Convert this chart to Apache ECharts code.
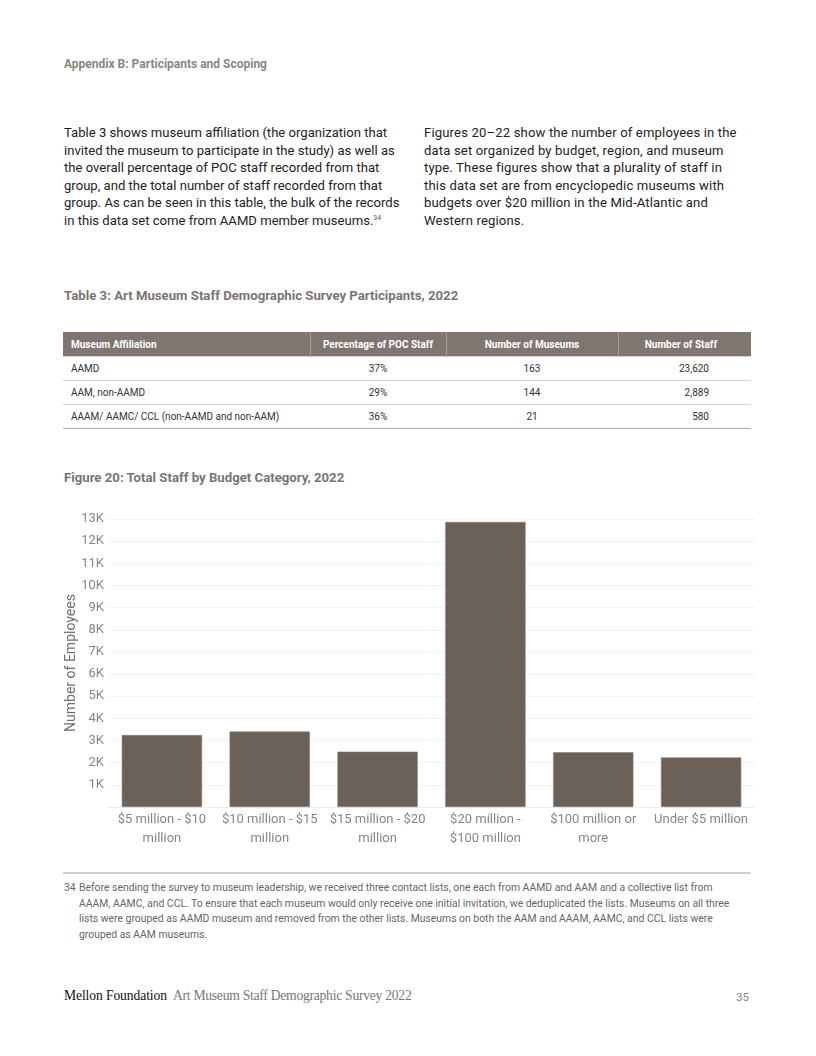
<!DOCTYPE html>
<html>
<head>
<meta charset="utf-8">
<script src="https://cdn.jsdelivr.net/npm/echarts@6/dist/echarts.min.js"></script>
<style>
  html, body { margin: 0; padding: 0; background: #fff; }
  body { width: 816px; height: 1056px; position: relative; overflow: hidden; font-family: Roboto, "Noto Sans", sans-serif; }
  .abs { position: absolute; }
  .hdr { left: 64px; top: 57px; font-size: 12px; font-weight: 700; color: #8c8582; }
  .para { top: 124px; font-size: 13.1px; line-height: 17.6px; color: #222; white-space: nowrap; }
  .para sup { font-size: 7px; line-height: 0; vertical-align: 5px; color: #555; }
  .ttl { left: 64px; font-size: 13.2px; font-weight: 700; color: #7b7572; }
  table { border-collapse: collapse; font-size: 10px; color: #333; }
  th { background: #7f7671; color: #fff; font-weight: 700; height: 24px; padding: 0 8px; border-left: 1px solid #a49c97; }
  th:first-child { border-left: none; text-align: left; }
  td { height: 23px; padding: 0 8px; border-top: 1px solid #d6d6d6; text-align: center; }
  td:first-child { text-align: left; }
  tr:last-child td { border-bottom: 1px solid #aaa; }
  .rule { left: 63px; top: 872px; width: 688px; height: 2px; background: #cfcfcf; }
  .fn { left: 64px; top: 880px; width: 720px; font-size: 10.4px; line-height: 15.6px; color: #666; white-space: nowrap; }
  .fn .num { position: absolute; left: 0; }
  .fn .txt { margin-left: 15px; }
  .foot { left: 64px; top: 988px; font-family: "Liberation Serif", "DejaVu Serif", serif; font-size: 13.6px; white-space: nowrap; }
  .foot .b { color: #111; letter-spacing: -0.1px; }
  .foot .g { color: #777; margin-left: 6px; letter-spacing: -0.25px; }
  .pg { left: 736px; top: 990px; font-size: 11.5px; color: #888; }
  #chart { position: absolute; left: 0; top: 490px; width: 816px; height: 380px; }
</style>
</head>
<body>
<div class="abs hdr">Appendix B: Participants and Scoping</div>

<div class="abs para" style="left:64px;">Table 3 shows museum affiliation (the organization that<br>invited the museum to participate in the study) as well as<br>the overall percentage of POC staff recorded from that<br>group, and the total number of staff recorded from that<br>group. As can be seen in this table, the bulk of the records<br>in this data set come from AAMD member museums.<sup>34</sup></div>

<div class="abs para" style="left:424px; letter-spacing:0.15px;">Figures 20–22 show the number of employees in the<br>data set organized by budget, region, and museum<br>type. These figures show that a plurality of staff in<br>this data set are from encyclopedic museums with<br>budgets over $20 million in the Mid-Atlantic and<br>Western regions.</div>

<div class="abs ttl" style="top:288px;">Table 3: Art Museum Staff Demographic Survey Participants, 2022</div>

<table class="abs" style="left:63px; top:332px; width:688px;">
  <colgroup><col style="width:247px"><col style="width:136px"><col style="width:172px"><col style="width:133px"></colgroup>
  <tr><th>Museum Affiliation</th><th>Percentage of POC Staff</th><th>Number of Museums</th><th style="text-align:right;padding-right:34px">Number of Staff</th></tr>
  <tr><td>AAMD</td><td>37%</td><td>163</td><td style="text-align:right;padding-right:42px">23,620</td></tr>
  <tr><td>AAM, non-AAMD</td><td>29%</td><td>144</td><td style="text-align:right;padding-right:42px">2,889</td></tr>
  <tr><td>AAAM/ AAMC/ CCL (non-AAMD and non-AAM)</td><td>36%</td><td>21</td><td style="text-align:right;padding-right:42px">580</td></tr>
</table>

<div class="abs ttl" style="top:470px;">Figure 20: Total Staff by Budget Category, 2022</div>

<div id="chart"></div>

<div class="abs rule"></div>
<div class="abs fn"><span class="num">34</span><div class="txt">Before sending the survey to museum leadership, we received three contact lists, one each from AAMD and AAM and a collective list from<br>AAAM, AAMC, and CCL. To ensure that each museum would only receive one initial invitation, we deduplicated the lists. Museums on all three<br>lists were grouped as AAMD museum and removed from the other lists. Museums on both the AAM and AAAM, AAMC, and CCL lists were<br>grouped as AAM museums.</div></div>

<div class="abs foot"><span class="b">Mellon Foundation</span><span class="g">Art Museum Staff Demographic Survey 2022</span></div>
<div class="abs pg">35</div>

<script>
const categories = [
  '$5 million - $10 million',
  '$10 million - $15 million',
  '$15 million - $20 million',
  '$20 million - $100 million',
  '$100 million or more',
  'Under $5 million'
];
const staffCounts = [3250, 3410, 2500, 12870, 2470, 2240];
const yAxisMax = 13000;
const yAxisStep = 1000;
const yAxisTitle = 'Number of Employees';

function wrapLabel(s, maxChars) {
  const words = s.split(' ');
  const lines = [];
  let cur = '';
  for (const w of words) {
    const next = cur ? cur + ' ' + w : w;
    if (next.length > maxChars && cur) { lines.push(cur); cur = w; }
    else cur = next;
  }
  if (cur) lines.push(cur);
  return lines.join('\n');
}

const chart = echarts.init(document.getElementById('chart'), null, { renderer: 'canvas' });
chart.setOption({
  animation: false,
  grid: { left: 108, right: 61, top: 29, bottom: 63, containLabel: false },
  xAxis: {
    type: 'category',
    data: categories,
    axisLine: { show: true, lineStyle: { color: '#eeeeee' } },
    axisTick: { show: false },
    axisLabel: {
      interval: 0,
      margin: 3,
      color: '#868686',
      fontFamily: 'Roboto',
      fontSize: 13,
      lineHeight: 19,
      formatter: v => wrapLabel(v, 17)
    }
  },
  yAxis: {
    type: 'value',
    min: 0,
    max: yAxisMax,
    interval: yAxisStep,
    name: yAxisTitle,
    nameLocation: 'middle',
    nameRotate: 90,
    nameGap: 30,
    nameMoveOverlap: false,
    nameTextStyle: { color: '#6e6e6e', fontFamily: 'Roboto', fontSize: 14 },
    axisLine: { show: false },
    axisTick: { show: false },
    splitLine: { lineStyle: { color: '#f2f2f2', width: 1 } },
    axisLabel: {
      margin: 4,
      color: '#868686',
      fontFamily: 'Roboto',
      fontSize: 13,
      formatter: v => (v === 0 ? '' : (v / 1000) + 'K')
    }
  },
  series: [{
    type: 'bar',
    data: staffCounts,
    barWidth: '74.5%',
    itemStyle: { color: '#6b6159', borderColor: '#8a817a', borderWidth: 0.6 }
  }]
});
</script>
</body>
</html>
